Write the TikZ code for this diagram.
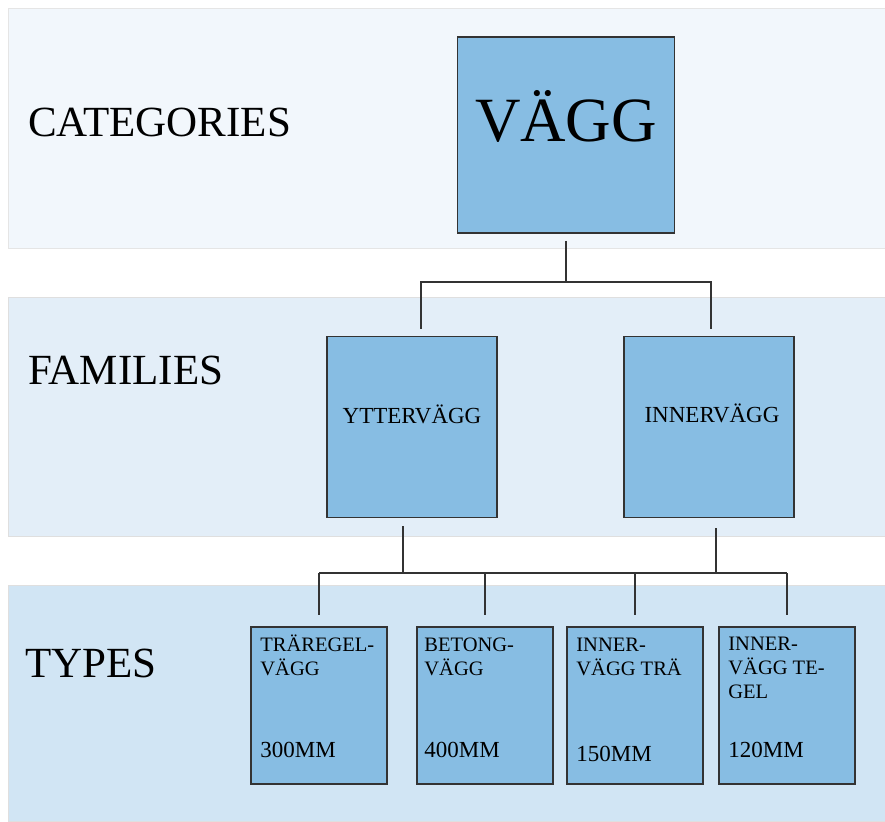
\documentclass[tikz,border=0pt]{standalone}
\usepackage{fontspec}
\setmainfont{Liberation Serif}
\usetikzlibrary{positioning}

\definecolor{catband}{HTML}{F2F7FC}
\definecolor{famband}{HTML}{E3EEF8}
\definecolor{typeband}{HTML}{D1E5F4}
\definecolor{boxfill}{HTML}{87BDE3}
\definecolor{boxline}{HTML}{333333}

\begin{document}
\begin{tikzpicture}[x=1pt,y=-1pt,
   box/.style={draw=boxline, line width=1.6pt, fill=boxfill, inner sep=0pt},
   catbox/.style={box, minimum width=217pt, minimum height=196pt},
   fambox/.style={box, minimum width=170pt, minimum height=181pt},
   typebox/.style={box, minimum width=136pt, minimum height=157pt},
   level/.style={anchor=base west, inner sep=0pt, font=\fontsize{43}{43}\selectfont},
   famtext/.style={anchor=base, inner sep=0pt, font=\fontsize{23}{23}\selectfont},
   typename/.style={anchor=base west, inner sep=0pt, align=left, font=\fontsize{20.5}{24}\selectfont},
   typesize/.style={anchor=base west, inner sep=0pt, font=\fontsize{23}{23}\selectfont},
   conn/.style={draw=boxline, line width=2pt}]
   \useasboundingbox (0,0) rectangle (885,821);

   % bands
   \fill[catband, draw=gray!20] (8,8) rectangle (885,248);
   \fill[famband, draw=gray!25] (8,297) rectangle (885,536);
   \fill[typeband, draw=gray!25] (8,585) rectangle (885,821);

   \node[level] (categories) at (28,137) {CATEGORIES};
   \node[level] (families)   at (28,384) {FAMILIES};
   \node[level] (types)      at (25,677) {TYPES};

   % boxes
   \node[catbox] (vagg) at (566,135) {};
   \node[anchor=base, inner sep=0pt, font=\fontsize{63}{63}\selectfont] (vaggtext) at ([yshift=-7pt]vagg.center) {VÄGG};

   \node[fambox] (ytter) at (412,427) {};
   \node[fambox, right=125.4pt of ytter] (inner) {};
   \node[famtext] (yttertext) at ([yshift=4pt]ytter.center) {YTTERVÄGG};
   \node[famtext] (innertext) at ([xshift=3pt,yshift=5pt]inner.center) {INNERVÄGG};

   \node[typebox] (t1) at (319,705.5) {};
   \node[typebox, right=28.4pt of t1] (t2) {};
   \node[typebox, right=12.4pt of t2] (t3) {};
   \node[typebox, right=14.4pt of t3] (t4) {};

   % base anchor of a multi-line node sits on its last line
   \node[typename] (t1name) at ([xshift=10pt,yshift=-49pt]t1.north west) {TRÄREGEL-\\VÄGG};
   \node[typename] (t2name) at ([xshift=8pt,yshift=-49pt]t2.north west) {BETONG-\\VÄGG};
   \node[typename] (t3name) at ([xshift=10pt,yshift=-49pt]t3.north west) {INNER-\\VÄGG TRÄ};
   \node[typename] (t4name) at ([xshift=10pt,yshift=-72pt]t4.north west) {INNER-\\VÄGG TE-\\GEL};

   \node[typesize] (t1size) at ([xshift=10pt,yshift=27pt]t1.south west) {300MM};
   \node[typesize] (t2size) at ([xshift=8pt,yshift=27pt]t2.south west) {400MM};
   \node[typesize] (t3size) at ([xshift=10pt,yshift=23pt]t3.south west) {150MM};
   \node[typesize] (t4size) at ([xshift=10pt,yshift=27pt]t4.south west) {120MM};

   % connectors
   \coordinate (topbus) at (566,282);
   \coordinate (lowbus) at (552,573);

   \draw[conn] ([yshift=-7pt]vagg.south) -- (topbus);
   \draw[conn] ([xshift=9pt,yshift=7pt]ytter.north) |- (topbus) -| ([xshift=1.5pt,yshift=7pt]inner.north);

   \draw[conn] ([xshift=-9pt,yshift=-8pt]ytter.south) -- ([xshift=-9pt]ytter.south |- lowbus);
   \draw[conn] ([xshift=6.5pt,yshift=-10pt]inner.south) -- ([xshift=6.5pt]inner.south |- lowbus);
   \draw[conn] (lowbus -| t1.north) -- (lowbus -| t4.north);
   \foreach \t in {t1,t2,t3,t4}
      \draw[conn] (lowbus -| \t.north) -- ([yshift=11pt]\t.north);

\end{tikzpicture}
\end{document}
